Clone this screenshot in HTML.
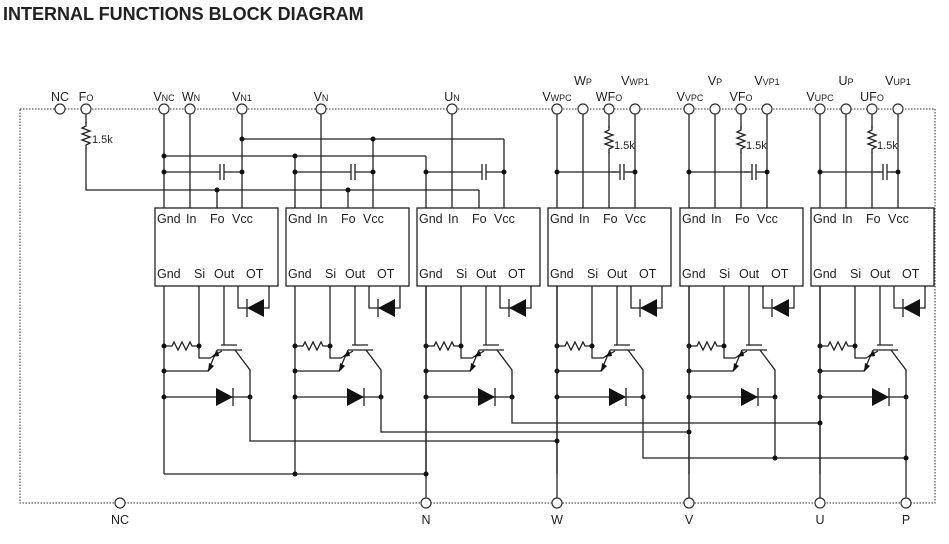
<!DOCTYPE html>
<html><head><meta charset="utf-8"><style>
body{margin:0;background:#fff;width:949px;height:544px;overflow:hidden}
svg{display:block}
text{font-family:"Liberation Sans",sans-serif;fill:#222}
.l{stroke:#222;stroke-width:1.3;fill:none}
.t{font-size:12.5px}
.s{font-size:9px}
</style></head><body>
<svg width="949" height="544" viewBox="0 0 949 544" xmlns="http://www.w3.org/2000/svg">
<defs>
<g id="box">
  <rect x="155" y="208" width="123" height="78" class="l"/>
  <text class="t" x="157" y="223">Gnd</text><text class="t" x="186" y="223">In</text><text class="t" x="210" y="223">Fo</text><text class="t" x="232" y="223">Vcc</text>
  <text class="t" x="157" y="278">Gnd</text><text class="t" x="194" y="278">Si</text><text class="t" x="214" y="278">Out</text><text class="t" x="246" y="278">OT</text>
  <path class="l" d="M238 286V308H269V286"/>
  <polygon points="247,308 264,299 264,317" fill="#111"/>
  <path class="l" d="M247 299V317"/>
  <path class="l" d="M164 286V474"/>
  <path class="l" d="M164 346H172L174 342L178 350L182 342L186 350L190 342L192 346H199"/>
  <path class="l" d="M199 286V358H210L222 351"/>
  <path class="l" d="M224 286V345M221 345H237M217 350H242"/>
  <path class="l" d="M235 350L250 370V397"/>
  <path class="l" d="M217 350L208 371H164"/>
  <polygon points="208,372 209,363 214,366" fill="#111"/>
  <polygon points="211,357 218,351 219,356" fill="#111"/>
  <path class="l" d="M164 397H250"/>
  <polygon points="216,388 216,406 233,397" fill="#111"/>
  <path class="l" d="M233 388V406"/>
  <circle cx="164" cy="346" r="2.5" fill="#111"/><circle cx="199" cy="346" r="2.5" fill="#111"/>
  <circle cx="164" cy="371" r="2.5" fill="#111"/><circle cx="164" cy="397" r="2.5" fill="#111"/><circle cx="250" cy="397" r="2.5" fill="#111"/>
</g>
<g id="cap"><path class="l" d="M-10 0H-2M-2 -8V8M2 -8V8M2 0H10"/></g>
<g id="res"><path class="l" d="M0 0V4L-4 6L4 9L-4 12L4 15L-4 18L4 21L0 23V27"/></g>
</defs>

<text x="3" y="20" style="font-size:18px;font-weight:bold">INTERNAL FUNCTIONS BLOCK DIAGRAM</text>

<rect x="20" y="109" width="915" height="394" fill="none" stroke="#333" stroke-width="1" stroke-dasharray="1.5,1.5"/>

<use href="#box"/>
<use href="#box" x="131"/>
<use href="#box" x="262"/>
<use href="#box" x="393"/>
<use href="#box" x="525"/>
<use href="#box" x="656"/>

<path class="l" d="M164 109V208M190 109V208M242 109V208M217 190V208"/>
<path class="l" d="M295 156V208M321 109V208M348 190V208M373 139V208"/>
<path class="l" d="M426 156V208M452 109V208M479 190V208M504 139V208"/>
<path class="l" d="M242 139H504M164 156H426M86 109V124M86 148V190H479"/>
<use href="#res" x="86" y="122"/>
<text class="t" x="92" y="143" style="font-size:11px">1.5k</text>
<path class="l" d="M164 172H212M232 172H242M295 172H343M363 172H373M426 172H474M494 172H504"/>
<use href="#cap" x="222" y="172"/><use href="#cap" x="353" y="172"/><use href="#cap" x="484" y="172"/>
<g fill="#111">
<circle cx="242" cy="139" r="2.5"/><circle cx="373" cy="139" r="2.5"/>
<circle cx="164" cy="156" r="2.5"/><circle cx="295" cy="156" r="2.5"/>
<circle cx="164" cy="172" r="2.5"/><circle cx="242" cy="172" r="2.5"/><circle cx="295" cy="172" r="2.5"/><circle cx="373" cy="172" r="2.5"/><circle cx="426" cy="172" r="2.5"/><circle cx="504" cy="172" r="2.5"/>
<circle cx="217" cy="190" r="2.5"/><circle cx="348" cy="190" r="2.5"/>
</g>

<g id="hs">
<path class="l" d="M557 109V208M583 109V208M609 109V128M609 152V208M635 109V208M557 172H617M627 172H635"/>
<use href="#res" x="609" y="126"/>
<use href="#cap" x="622" y="172"/>
<text class="t" x="614" y="149" style="font-size:11px">1.5k</text>
<circle cx="557" cy="172" r="2.5" fill="#111"/><circle cx="635" cy="172" r="2.5" fill="#111"/>
</g>
<use href="#hs" x="132"/>
<use href="#hs" x="263"/>

<path class="l" d="M164 474H426M426 286V503"/>
<path class="l" d="M250 397V441H557M381 397V432H689M512 397V423H820"/>
<path class="l" d="M557 286V503M689 286V503M820 286V503"/>
<path class="l" d="M643 397V458H906M775 397V458M906 397V503"/>
<g fill="#111">
<circle cx="295" cy="474" r="2.5"/><circle cx="426" cy="474" r="2.5"/>
<circle cx="557" cy="441" r="2.5"/><circle cx="689" cy="432" r="2.5"/><circle cx="820" cy="423" r="2.5"/>
<circle cx="775" cy="458" r="2.5"/><circle cx="906" cy="458" r="2.5"/>
</g>

<g fill="#fff" stroke="#333" stroke-width="1.2">
<circle cx="60" cy="109" r="5"/><circle cx="86" cy="109" r="5"/><circle cx="164" cy="109" r="5"/><circle cx="190" cy="109" r="5"/><circle cx="242" cy="109" r="5"/><circle cx="321" cy="109" r="5"/><circle cx="452" cy="109" r="5"/>
<circle cx="557" cy="109" r="5"/><circle cx="583" cy="109" r="5"/><circle cx="609" cy="109" r="5"/><circle cx="635" cy="109" r="5"/>
<circle cx="689" cy="109" r="5"/><circle cx="715" cy="109" r="5"/><circle cx="741" cy="109" r="5"/><circle cx="767" cy="109" r="5"/>
<circle cx="820" cy="109" r="5"/><circle cx="846" cy="109" r="5"/><circle cx="872" cy="109" r="5"/><circle cx="898" cy="109" r="5"/>
<circle cx="120" cy="503" r="5"/><circle cx="426" cy="503" r="5"/><circle cx="557" cy="503" r="5"/><circle cx="689" cy="503" r="5"/><circle cx="820" cy="503" r="5"/><circle cx="906" cy="503" r="5"/>
</g>

<g class="t" text-anchor="middle">
<text x="60" y="101" class="t">NC</text>
<text x="86" y="101" class="t">F<tspan class="s">O</tspan></text>
<text x="164" y="101" class="t">V<tspan class="s">NC</tspan></text>
<text x="191" y="101" class="t">W<tspan class="s">N</tspan></text>
<text x="242" y="101" class="t">V<tspan class="s">N1</tspan></text>
<text x="321" y="101" class="t">V<tspan class="s">N</tspan></text>
<text x="452" y="101" class="t">U<tspan class="s">N</tspan></text>
<text x="557" y="101" class="t">V<tspan class="s">WPC</tspan></text>
<text x="583" y="85" class="t">W<tspan class="s">P</tspan></text>
<text x="609" y="101" class="t">WF<tspan class="s">O</tspan></text>
<text x="635" y="85" class="t">V<tspan class="s">WP1</tspan></text>
<text x="690" y="101" class="t">V<tspan class="s">VPC</tspan></text>
<text x="715" y="85" class="t">V<tspan class="s">P</tspan></text>
<text x="741" y="101" class="t">VF<tspan class="s">O</tspan></text>
<text x="767" y="85" class="t">V<tspan class="s">VP1</tspan></text>
<text x="820" y="101" class="t">V<tspan class="s">UPC</tspan></text>
<text x="846" y="85" class="t">U<tspan class="s">P</tspan></text>
<text x="872" y="101" class="t">UF<tspan class="s">O</tspan></text>
<text x="898" y="85" class="t">V<tspan class="s">UP1</tspan></text>
<text x="120" y="524" class="t">NC</text>
<text x="426" y="524" class="t">N</text>
<text x="557" y="524" class="t">W</text>
<text x="689" y="524" class="t">V</text>
<text x="820" y="524" class="t">U</text>
<text x="906" y="524" class="t">P</text>
</g>
</svg>
</body></html>
